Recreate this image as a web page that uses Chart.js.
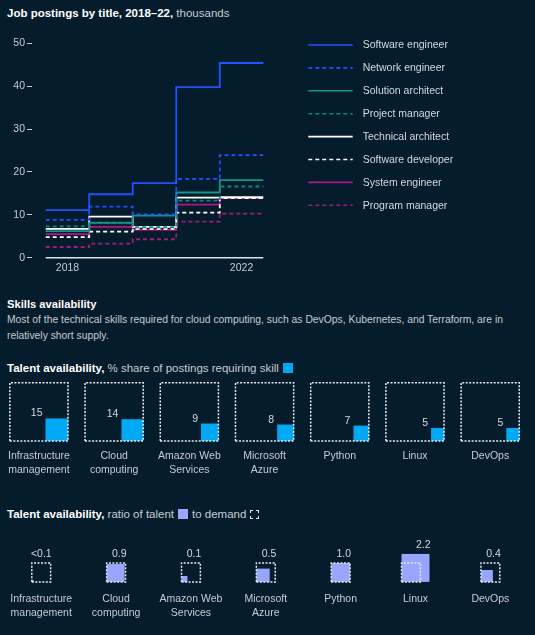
<!DOCTYPE html>
<html><head><meta charset="utf-8">
<script src="https://cdn.jsdelivr.net/npm/chart.js@4.4.0/dist/chart.umd.min.js"></script>
<style>
html,body{margin:0;padding:0;background:#051c2c;width:535px;height:635px;overflow:hidden;font-family:"Liberation Sans",Arial,sans-serif;}
.t{position:absolute;left:7px;white-space:nowrap;color:#c5ccd3;}
.b{font-weight:bold;color:#ffffff;}
canvas{position:absolute;left:0;}
.sw{display:inline-block;width:10px;height:10px;vertical-align:-1px;margin-left:4px;}
.sd{display:inline-block;width:7px;height:7px;vertical-align:-1px;margin-left:4px;border:1.5px dashed #e8ecef;}
</style></head><body>
<div class="t" style="top:6px;font-size:11.5px;line-height:14px;"><span class="b">Job postings by title, 2018–22,</span> thousands</div>
<canvas id="lines" width="535" height="255" style="top:28px;width:535px;height:255px"></canvas>
<div class="t b" style="top:296.5px;font-size:11.2px;line-height:14px;">Skills availability</div>
<div class="t" style="top:311.5px;font-size:10.35px;line-height:16px;">Most of the technical skills required for cloud computing, such as DevOps, Kubernetes, and Terraform, are in<br>relatively short supply.</div>
<div class="t" style="top:361px;font-size:11.5px;line-height:14px;"><span class="b">Talent availability,</span> % share of postings requiring skill<span class="sw" style="background:#00a9f4"></span></div>
<canvas id="share" width="535" height="100" style="top:378px;width:535px;height:100px"></canvas>
<div class="t" style="top:507px;font-size:11.5px;line-height:14px;"><span class="b">Talent availability,</span> ratio of talent<span class="sw" style="background:#99a6ff;margin-right:4px"></span>to demand<span class="sd"></span></div>
<canvas id="ratio" width="535" height="97" style="top:530px;width:535px;height:97px"></canvas>
<script>
// ---------- data: job postings (thousands) ----------
const years = [2018, 2019, 2020, 2021, 2022];
const softwareEngineer   = [11.1, 14.8, 17.4, 39.8, 45.4];
const networkEngineer    = [8.8, 11.9, 10.1, 18.4, 23.9];
const solutionArchitect  = [6.2, 8.1, 9.8, 15.2, 18.1];
const projectManager     = [7.3, 8.2, 7.1, 13.3, 16.6];
const technicalArchitect = [6.7, 9.6, 7.2, 14.0, 14.1];
const softwareDeveloper  = [4.8, 6.1, 6.7, 10.5, 13.9];
const systemEngineer     = [5.5, 7.2, 6.5, 12.4, 13.9];
const programManager     = [2.5, 3.3, 4.3, 8.4, 10.3];
const yTickValues = [0, 10, 20, 30, 40, 50];
const xTickYears = [2018, 2022];

// ---------- data: skills ----------
const skillLabels = [['Infrastructure', 'management'], ['Cloud', 'computing'], ['Amazon Web', 'Services'], ['Microsoft', 'Azure'], ['Python'], ['Linux'], ['DevOps']];
const shareOfPostings = [15, 14, 9, 8, 7, 5, 5];          // % of postings requiring skill
const talentToDemand = [0.01, 0.9, 0.1, 0.5, 1.0, 2.2, 0.4]; // ratio of talent to demand

Chart.defaults.font.family = '"Liberation Sans", Arial, sans-serif';
Chart.defaults.color = '#c5ccd3';

const GREY = '#c5ccd3';
const TICKFONT = {size: 10.5, lineHeight: '14px'};

// ---------- line chart ----------
function stepPoints(vals) {
  const pts = years.map((y, i) => ({x: y - 0.5, y: vals[i]}));
  pts.push({x: years[years.length - 1] + 0.5, y: vals[vals.length - 1]});
  return pts;
}
const series = [
  {label: 'Software engineer', data: softwareEngineer, color: '#2251ff', dash: []},
  {label: 'Network engineer', data: networkEngineer, color: '#2251ff', dash: [4, 3]},
  {label: 'Solution architect', data: solutionArchitect, color: '#15968b', dash: []},
  {label: 'Project manager', data: projectManager, color: '#12877d', dash: [4, 3]},
  {label: 'Technical architect', data: technicalArchitect, color: '#ffffff', dash: []},
  {label: 'Software developer', data: softwareDeveloper, color: '#ffffff', dash: [4, 3]},
  {label: 'System engineer', data: systemEngineer, color: '#b0168a', dash: []},
  {label: 'Program manager', data: programManager, color: '#9c1c7c', dash: [4, 3]}
];

const baselinePlugin = {
  id: 'baseline',
  beforeDatasetsDraw(chart) {
    const {ctx, scales: {x, y}} = chart;
    const y0 = y.getPixelForValue(0);
    ctx.save();
    ctx.strokeStyle = '#dfe3e7';
    ctx.lineWidth = 1.5;
    ctx.beginPath();
    ctx.moveTo(x.getPixelForValue(years[0] - 0.5), y0);
    ctx.lineTo(x.getPixelForValue(years[years.length - 1] + 0.5), y0);
    ctx.stroke();
    ctx.restore();
  }
};
const sideLegend = {
  id: 'sideLegend',
  afterDraw(chart) {
    const ctx = chart.ctx;
    const x0 = chart.chartArea.right + 45;
    const len = 44.4;
    const textX = x0 + len + 10;
    ctx.save();
    ctx.font = '10.5px "Liberation Sans", Arial, sans-serif';
    ctx.textBaseline = 'middle';
    ctx.textAlign = 'left';
    chart.data.datasets.forEach((ds, i) => {
      const yy = 17 + i * 22.9;
      ctx.strokeStyle = ds.borderColor;
      ctx.lineWidth = 1.6;
      ctx.setLineDash(ds.borderDash || []);
      ctx.beginPath();
      ctx.moveTo(x0, yy);
      ctx.lineTo(x0 + len, yy);
      ctx.stroke();
      ctx.setLineDash([]);
      ctx.fillStyle = '#d3d9df';
      ctx.fillText(ds.label, textX, yy + 0.5);
    });
    ctx.restore();
  }
};

new Chart(document.getElementById('lines'), {
  type: 'line',
  data: {
    datasets: series.map(s => ({
      label: s.label,
      data: stepPoints(s.data),
      borderColor: s.color,
      borderDash: s.dash,
      borderWidth: 1.8,
      stepped: 'before',
      pointRadius: 0,
      fill: false,
      clip: false
    }))
  },
  options: {
    responsive: false,
    animation: false,
    layout: {padding: {top: 15.3, right: 271.7, bottom: 0, left: 0}},
    plugins: {legend: {display: false}, tooltip: {enabled: false}},
    scales: {
      x: {
        type: 'linear',
        min: 2017.185,
        max: 2022.5,
        afterBuildTicks: sc => { sc.ticks = xTickYears.map(v => ({value: v})); },
        afterFit: sc => { sc.height = 25.3; },
        ticks: {callback: v => String(v), font: {size: 10.5}, color: GREY, padding: 3.7, maxRotation: 0},
        grid: {display: false, drawTicks: false},
        border: {display: false}
      },
      y: {
        min: 0,
        max: 50,
        afterBuildTicks: sc => { sc.ticks = yTickValues.map(v => ({value: v})); },
        afterFit: sc => { sc.width = 32; },
        ticks: {font: {size: 10.5}, color: GREY, padding: 2},
        grid: {display: true, drawOnChartArea: false, drawTicks: true, tickLength: 5, tickColor: GREY, tickWidth: 1, lineWidth: 1, color: GREY},
        border: {display: false}
      }
    }
  },
  plugins: [baselinePlugin, sideLegend]
});

// ---------- square rows ----------
const PAD_R = 7.2;
const CAT_PX = (535 - PAD_R) / skillLabels.length;
function pxPerUnit(chart) {
  const x = chart.scales.x;
  return Math.abs(x.getPixelForValue(1) - x.getPixelForValue(0));
}
function boxOutline(lefts, side) {
  const pts = [];
  lefts.forEach(L => {
    pts.push({x: L, y: 0}, {x: L + side, y: 0}, {x: L + side, y: side}, {x: L, y: side}, {x: L, y: 0}, {x: null, y: null});
  });
  return pts;
}
function rowChart(id, areaH, axisH, tickPad, datasets, labelPlugin) {
  return new Chart(document.getElementById(id), {
    type: 'scatter',
    data: {datasets},
    options: {
      responsive: false,
      animation: false,
      layout: {padding: {top: 0, right: PAD_R, bottom: 0, left: 0}},
      plugins: {legend: {display: false}, tooltip: {enabled: false}},
      scales: {
        x: {
          type: 'linear',
          min: -0.5,
          max: skillLabels.length - 0.5,
          afterBuildTicks: sc => { sc.ticks = skillLabels.map((_, i) => ({value: i})); },
          afterFit: sc => { sc.height = axisH; },
          ticks: {callback: v => skillLabels[v], font: TICKFONT, color: GREY, padding: tickPad, maxRotation: 0, autoSkip: false},
          grid: {display: false, drawTicks: false},
          border: {display: false}
        },
        y: {display: false, min: 0, max: areaH / CAT_PX}
      }
    },
    plugins: [labelPlugin]
  });
}

// Row 1: share of postings (box = 100%)
const BOX1 = 58.3 / CAT_PX;
const shareSide = v => BOX1 * Math.sqrt(v / 100);
const shareLabels = {
  id: 'shareLabels',
  afterDatasetsDraw(chart) {
    const {ctx, scales: {x, y}} = chart;
    ctx.save();
    ctx.font = '10.5px "Liberation Sans", Arial, sans-serif';
    ctx.fillStyle = '#d3d9df';
    ctx.textAlign = 'right';
    ctx.textBaseline = 'alphabetic';
    shareOfPostings.forEach((v, i) => {
      const s = shareSide(v);
      ctx.fillText(String(v), x.getPixelForValue(i + BOX1 / 2 - s) - 3, y.getPixelForValue(s) - 2);
    });
    ctx.restore();
  }
};
rowChart('share', 63, 37, 8, [
  {
    label: 'Total postings',
    data: boxOutline(shareOfPostings.map((_, i) => i - BOX1 / 2), BOX1),
    showLine: true, borderColor: '#e8ecef', borderWidth: 1.5, borderDash: [2, 1.5],
    pointRadius: 0, clip: false, spanGaps: false
  },
  {
    label: 'Share requiring skill',
    data: shareOfPostings.map((v, i) => { const s = shareSide(v); return {x: i + BOX1 / 2 - s / 2, y: s / 2}; }),
    pointStyle: 'rect', pointBackgroundColor: '#00a9f4', pointBorderWidth: 0,
    pointRadius: c => shareSide(shareOfPostings[c.dataIndex]) * pxPerUnit(c.chart) / Math.SQRT2,
    clip: false
  }
], shareLabels);

// Row 2: talent vs demand (box = demand)
const BOX2 = 19 / CAT_PX;
const talentSide = r => BOX2 * Math.sqrt(r);
const unionW = r => Math.max(BOX2, talentSide(r));
const leftOf = (r, i) => i - unionW(r) / 2;
const ratioLabels = {
  id: 'ratioLabels',
  afterDatasetsDraw(chart) {
    const {ctx, scales: {x, y}} = chart;
    ctx.save();
    ctx.font = '10.5px "Liberation Sans", Arial, sans-serif';
    ctx.fillStyle = '#d3d9df';
    ctx.textAlign = 'right';
    ctx.textBaseline = 'alphabetic';
    talentToDemand.forEach((r, i) => {
      const txt = r < 0.1 ? '<0.1' : r.toFixed(1);
      const L = leftOf(r, i);
      ctx.fillText(txt, x.getPixelForValue(L + unionW(r)) + 1, y.getPixelForValue(unionW(r)) - 6);
    });
    ctx.restore();
  }
};
rowChart('ratio', 52, 45, 10.3, [
  {
    label: 'Demand',
    data: boxOutline(talentToDemand.map((r, i) => leftOf(r, i)), BOX2),
    showLine: true, borderColor: '#e8ecef', borderWidth: 1.5, borderDash: [2, 1.5],
    pointRadius: 0, clip: false, spanGaps: false
  },
  {
    label: 'Talent',
    data: talentToDemand.map((r, i) => { const s = talentSide(r); return {x: leftOf(r, i) + s / 2, y: s / 2}; }),
    pointStyle: 'rect', pointBackgroundColor: '#99a6ff', pointBorderWidth: 0,
    pointRadius: c => talentSide(talentToDemand[c.dataIndex]) * pxPerUnit(c.chart) / Math.SQRT2,
    clip: false
  }
], ratioLabels);
</script>
</body></html>
